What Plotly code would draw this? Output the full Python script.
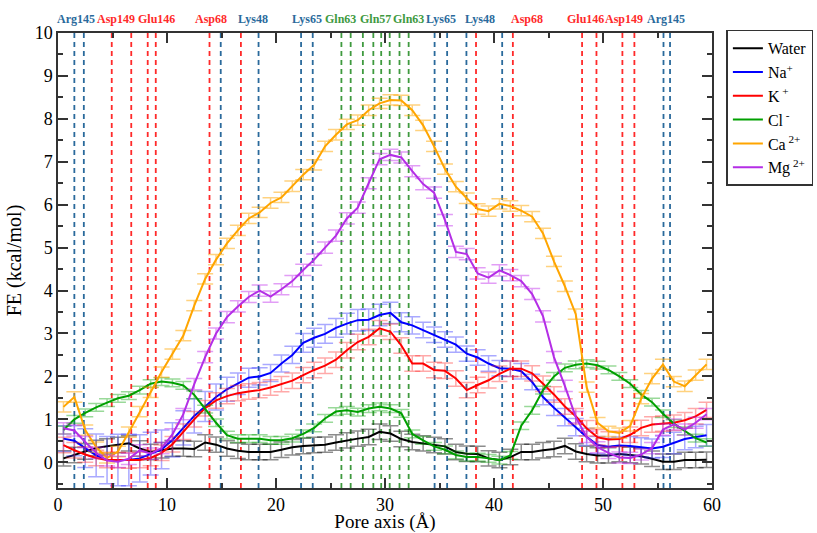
import plotly.graph_objects as go

# ---------------- data ----------------
pore_x = [0.5, 1.5, 2.5, 3.5, 4.5, 5.5, 6.5, 7.5, 8.5, 9.5,
          10.5, 11.5, 12.5, 13.5, 14.5, 15.5, 16.5, 17.5, 18.5, 19.5,
          20.5, 21.5, 22.5, 23.5, 24.5, 25.5, 26.5, 27.5, 28.5, 29.5,
          30.5, 31.5, 32.5, 33.5, 34.5, 35.5, 36.5, 37.5, 38.5, 39.5,
          40.5, 41.5, 42.5, 43.5, 44.5, 45.5, 46.5, 47.5, 48.5, 49.5,
          50.5, 51.5, 52.5, 53.5, 54.5, 55.5, 56.5, 57.5, 58.5, 59.5]

water = [0.09, 0.17, 0.25, 0.33, 0.37, 0.40, 0.44, 0.32, 0.24, 0.28,
         0.32, 0.32, 0.31, 0.46, 0.41, 0.32, 0.27, 0.24, 0.24, 0.24,
         0.29, 0.35, 0.38, 0.40, 0.41, 0.46, 0.51, 0.55, 0.59, 0.71,
         0.67, 0.54, 0.47, 0.44, 0.40, 0.37, 0.24, 0.20, 0.19, 0.09,
         0.05, 0.12, 0.24, 0.24, 0.28, 0.31, 0.38, 0.25, 0.19, 0.16,
         0.16, 0.19, 0.17, 0.14, 0.08, 0.01, 0.01, 0.05, 0.05, 0.06]
water_err = [0.18] * 60

na = [0.55, 0.50, 0.33, 0.16, 0.05, 0.05, 0.05, 0.09, 0.20, 0.30,
      0.52, 0.80, 1.08, 1.30, 1.52, 1.70, 1.83, 1.97, 2.00, 2.08,
      2.30, 2.50, 2.78, 2.90, 2.99, 3.13, 3.23, 3.31, 3.32, 3.43,
      3.48, 3.26, 3.19, 3.08, 2.97, 2.86, 2.74, 2.53, 2.44, 2.30,
      2.19, 2.18, 2.12, 1.87, 1.52, 1.27, 1.05, 0.82, 0.59, 0.40,
      0.36, 0.39, 0.38, 0.35, 0.32, 0.36, 0.45, 0.54, 0.59, 0.63]
na_err = [0.30, 0.35, 0.45, 0.50, 0.55, 0.60, 0.60, 0.55, 0.50, 0.45,
          0.40, 0.40, 0.40, 0.35, 0.30, 0.28, 0.25, 0.22, 0.20, 0.20,
          0.20, 0.20, 0.22, 0.22, 0.22, 0.22, 0.24, 0.25, 0.25, 0.25,
          0.25, 0.22, 0.20, 0.18, 0.18, 0.18, 0.18, 0.18, 0.18, 0.18,
          0.18, 0.18, 0.18, 0.18, 0.18, 0.18, 0.20, 0.20, 0.20, 0.20,
          0.20, 0.20, 0.22, 0.22, 0.22, 0.25, 0.25, 0.25, 0.25, 0.25]

k = [0.40, 0.28, 0.18, 0.10, 0.05, 0.05, 0.04, 0.05, 0.10, 0.22,
     0.42, 0.71, 1.00, 1.26, 1.44, 1.54, 1.61, 1.65, 1.68, 1.74,
     1.82, 1.90, 2.03, 2.15, 2.25, 2.39, 2.61, 2.80, 2.92, 3.12,
     3.04, 2.72, 2.30, 2.30, 2.15, 2.13, 1.95, 1.68, 1.80, 1.91,
     2.06, 2.18, 2.18, 2.07, 1.83, 1.58, 1.30, 1.07, 0.79, 0.58,
     0.53, 0.54, 0.64, 0.80, 0.88, 0.90, 0.92, 0.98, 1.07, 1.22]
k_err = [0.18] * 60

cl = [0.75, 1.00, 1.15, 1.28, 1.39, 1.49, 1.55, 1.68, 1.83, 1.88,
      1.85, 1.79, 1.57, 1.24, 0.92, 0.63, 0.55, 0.55, 0.55, 0.51,
      0.51, 0.56, 0.66, 0.80, 1.02, 1.18, 1.21, 1.17, 1.25, 1.29,
      1.25, 1.14, 0.66, 0.51, 0.37, 0.29, 0.17, 0.12, 0.12, 0.09,
      0.05, 0.16, 0.85, 1.21, 1.68, 2.00, 2.20, 2.27, 2.30, 2.26,
      2.15, 2.00, 1.83, 1.58, 1.40, 1.13, 0.90, 0.73, 0.56, 0.46]
cl_err = [0.09] * 60

ca = [1.29, 1.52, 0.75, 0.35, 0.10, 0.25, 0.70, 1.18, 1.63, 2.10,
      2.52, 2.95, 3.65, 4.27, 4.72, 5.10, 5.40, 5.68, 5.82, 6.04,
      6.17, 6.43, 6.70, 6.93, 7.36, 7.63, 7.87, 7.97, 8.20, 8.36,
      8.44, 8.43, 8.20, 7.85, 7.36, 6.83, 6.42, 6.15, 5.90, 5.85,
      6.02, 5.97, 5.86, 5.72, 5.33, 4.68, 4.10, 3.45, 1.75, 0.92,
      0.72, 0.68, 0.85, 1.48, 1.95, 2.28, 1.88, 1.77, 2.03, 2.28]
ca_err = [0.12] * 60

mg = [0.79, 0.74, 0.47, 0.22, 0.04, 0.01, 0.08, 0.28, 0.20, 0.33,
      0.65, 1.12, 1.82, 2.45, 3.00, 3.38, 3.63, 3.85, 4.00, 3.86,
      4.03, 4.22, 4.48, 4.72, 5.00, 5.28, 5.68, 5.93, 6.50, 7.06,
      7.16, 7.10, 6.78, 6.48, 6.28, 5.64, 4.90, 4.85, 4.40, 4.30,
      4.47, 4.36, 4.22, 3.92, 3.40, 2.45, 1.78, 1.05, 0.59, 0.35,
      0.22, 0.11, 0.10, 0.18, 0.33, 0.76, 0.88, 0.76, 0.92, 1.12]
mg_err = [0.13] * 60

series_names = ["Water", "Na<sup>+</sup>", "K<sup> +</sup>", "Cl<sup> -</sup>",
                "Ca<sup> 2+</sup>", "Mg<sup> 2+</sup>"]

# residue marker lines (pore axis positions, Å)
blue_lines = [1.5, 2.37, 14.93, 18.4, 22.3, 23.37, 34.55, 35.7, 37.47, 40.75, 55.55, 56.15]
red_lines = [4.93, 6.72, 8.23, 8.97, 13.9, 16.78, 38.35, 41.73, 48.08, 49.4, 51.78, 52.88]
green_lines = [26.0, 26.85, 27.97, 28.93, 29.65, 30.43, 31.33, 32.17]

residue_labels = ["Arg145", "Asp149", "Glu146", "Asp68", "Lys48", "Lys65", "Gln63",
                  "Gln57", "Gln63", "Lys65", "Lys48", "Asp68", "Glu146", "Asp149", "Arg145"]
residue_pos = [1.65, 5.3, 9.08, 14.0, 17.9, 22.8, 25.9, 29.1, 32.2, 35.1, 38.7, 43.0,
               48.4, 51.9, 55.8]
residue_kind = ["b", "r", "r", "r", "b", "b", "g", "g", "g", "b", "b", "r", "r", "r", "b"]

# ---------------- styling ----------------
FONT = "Liberation Serif"
line_colors = ["#000000", "#0000ff", "#ff0000", "#00a000", "#ffa500", "#b42ee6"]
err_colors = ["rgba(0,0,0,0.45)", "rgba(40,40,255,0.40)", "rgba(255,40,40,0.40)",
              "rgba(0,160,0,0.40)", "rgba(255,165,0,0.50)", "rgba(190,40,235,0.45)"]
kind_colors = {"b": "#2a6a9c", "r": "#ff2a2a", "g": "#3f9a3f"}

fig = go.Figure()

for xs, col in ((blue_lines, kind_colors["b"]), (red_lines, kind_colors["r"]),
                (green_lines, kind_colors["g"])):
    for xv in xs:
        fig.add_shape(type="line", xref="x", yref="paper", x0=xv, x1=xv, y0=0, y1=1,
                      line=dict(color=col, width=1.8, dash="5px,4px"), layer="below")

all_y = [water, na, k, cl, ca, mg]
all_e = [water_err, na_err, k_err, cl_err, ca_err, mg_err]
for name, ys, es, lc, ec in zip(series_names, all_y, all_e, line_colors, err_colors):
    fig.add_trace(go.Scatter(
        x=pore_x, y=ys, mode="lines", name=name,
        line=dict(color=lc, width=2),
        error_y=dict(type="data", array=es, visible=True, color=ec, thickness=1.5, width=8),
    ))

for lab, xv, kd in zip(residue_labels, residue_pos, residue_kind):
    fig.add_annotation(x=xv, y=1.031, xref="x", yref="paper", text="<b>%s</b>" % lab,
                       showarrow=False, xanchor="center", yanchor="middle",
                       font=dict(family=FONT, size=12, color=kind_colors[kd]))

axis_common = dict(showline=True, linecolor="#333333", linewidth=1.5, mirror="allticks",
                   ticks="inside", ticklen=10, tickwidth=1.5, tickcolor="#333333",
                   showgrid=False, zeroline=False,
                   tickfont=dict(family=FONT, size=18, color="#000000"))

fig.update_layout(
    width=817, height=533,
    margin=dict(l=58, r=105, t=33, b=45, autoexpand=False),
    paper_bgcolor="white", plot_bgcolor="white",
    font=dict(family=FONT, color="#000000"),
    xaxis=dict(range=[0, 60], dtick=10, tick0=0,
               minor=dict(dtick=5, ticks="inside", ticklen=5, tickwidth=1.5, tickcolor="#333333"),
               title=dict(text="Pore axis (Å)", font=dict(family=FONT, size=19), standoff=3),
               **axis_common),
    yaxis=dict(range=[-0.6, 10], dtick=1, tick0=0,
               minor=dict(dtick=0.5, ticks="inside", ticklen=5, tickwidth=1.5, tickcolor="#333333"),
               title=dict(text="FE (kcal/mol)", font=dict(family=FONT, size=20), standoff=8),
               **axis_common),
    legend=dict(x=1.022, y=1.007, xanchor="left", yanchor="top",
                bordercolor="#333333", borderwidth=1.5, bgcolor="white",
                font=dict(family=FONT, size=16), tracegroupgap=0, itemwidth=30),
    showlegend=True,
)

fig.write_html("out.html", config={"displayModeBar": False},
               post_script="document.body.style.margin='0px';document.body.style.overflow='hidden';")
